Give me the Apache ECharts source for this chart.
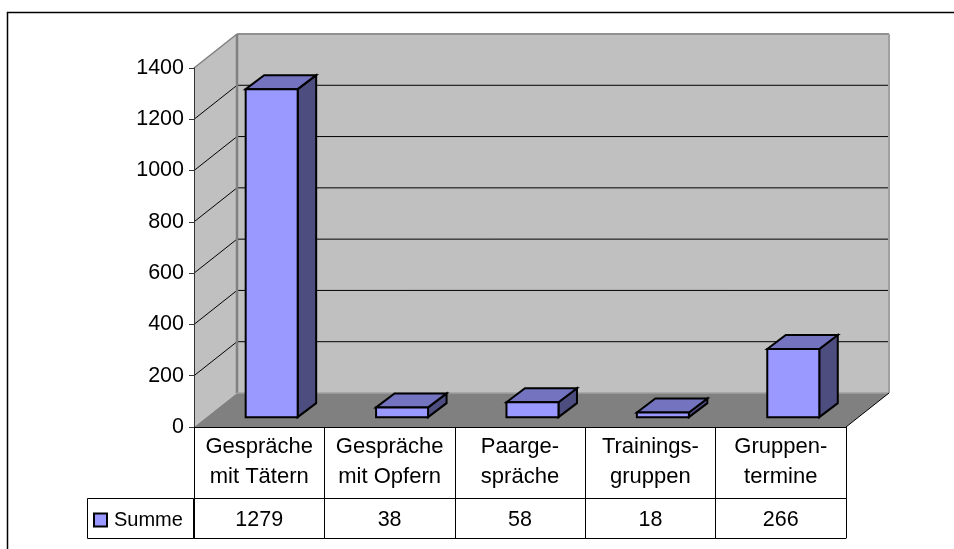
<!DOCTYPE html>
<html>
<head>
<meta charset="utf-8">
<style>
  html, body { margin: 0; padding: 0; background: #fff; }
  #chart { width: 954px; height: 549px; }
</style>
<script src="https://cdn.jsdelivr.net/npm/echarts@6/dist/echarts.min.js"></script>
</head>
<body>
<div id="chart"></div>
<script>
// data
const categories = ['Gespräche\nmit Tätern', 'Gespräche\nmit Opfern', 'Paarge-\nspräche', 'Trainings-\ngruppen', 'Gruppen-\ntermine'];
const summe = [1279, 38, 58, 18, 266];
const yTicks = [0, 200, 400, 600, 800, 1000, 1200, 1400];
const seriesName = 'Summe';

// look of the fake 3d box
const DEPTH_X = 43, DEPTH_Y = 34;
const BAR_W = 52, BAR_DX = 18.5, BAR_DY = 14, BAR_OFFSET = 0.29;
const FONT = '"Liberation Sans", Arial, sans-serif';
const FONT_SIZE = 21.5;

const chart = echarts.init(document.getElementById('chart'));

function poly(points, fill, stroke, width) {
  return { type: 'polygon', shape: { points: points }, style: { fill: fill, stroke: stroke || 'none', lineWidth: width || 0, lineJoin: 'miter' } };
}
function line(a, b, color, width) {
  return { type: 'line', shape: { x1: a[0], y1: a[1], x2: b[0], y2: b[1] }, style: { stroke: color, lineWidth: width } };
}
function back(p) {
  return [p[0] + DEPTH_X, p[1] - DEPTH_Y];
}
// plot edges, category axis only takes whole indexes so go half a band out from the centres
function leftAt(api, v) {
  const p = api.coord([0, v]);
  return [p[0] - api.size([1, 0])[0] / 2, p[1]];
}
function rightAt(api, v) {
  const p = api.coord([categories.length - 1, v]);
  return [p[0] + api.size([1, 0])[0] / 2, p[1]];
}

// left wall, back wall, floor and the gridlines on them
function renderWalls(params, api) {
  const max = yTicks[yTicks.length - 1];
  const bl = leftAt(api, 0);
  const br = rightAt(api, 0);
  const tl = leftAt(api, max);
  const tr = rightAt(api, max);
  const children = [
    poly([bl, tl, back(tl), back(bl)], '#c0c0c0'),
    poly([back(bl), back(tl), back(tr), back(br)], '#c0c0c0'),
    poly([bl, br, back(br), back(bl)], '#808080')
  ];
  yTicks.slice(1, -1).forEach(function (t) {
    const a = leftAt(api, t);
    const b = rightAt(api, t);
    children.push(line(a, back(a), '#000', 1), line(back(a), back(b), '#000', 1));
  });
  children.push(
    line(tl, back(tl), '#808080', 1.5),
    line(back(tl), back(tr), '#909090', 2),
    line(back(tl), back(bl), '#808080', 2.5),
    line(back(tr), back(br), '#a0a0a0', 2),
    line(back(bl), back(br), '#a0a0a0', 1.5),
    line(br, back(br), '#000', 1)
  );
  return { type: 'group', children: children };
}

function renderBar(params, api) {
  const idx = api.value(0);
  const top = api.coord([idx, api.value(1)]);
  const base = api.coord([idx, 0]);
  const x0 = top[0] + BAR_OFFSET * DEPTH_X - BAR_W / 2;
  const x1 = x0 + BAR_W;
  const y0 = top[1] - BAR_OFFSET * DEPTH_Y;
  const y1 = base[1] - BAR_OFFSET * DEPTH_Y;
  const s = 2;
  return {
    type: 'group',
    children: [
      poly([[x1, y0], [x1 + BAR_DX, y0 - BAR_DY], [x1 + BAR_DX, y1 - BAR_DY], [x1, y1]], '#4d4d80', '#000', s),
      poly([[x0, y0], [x0 + BAR_DX, y0 - BAR_DY], [x1 + BAR_DX, y0 - BAR_DY], [x1, y0]], '#7373bf', '#000', s),
      poly([[x0, y0], [x1, y0], [x1, y1], [x0, y1]], '#9999ff', '#000', s)
    ]
  };
}

chart.setOption({
  animation: false,
  backgroundColor: '#fff',
  textStyle: { fontFamily: FONT },
  grid: { left: 194, right: 108, top: 68, bottom: 122 },
  legend: {
    left: 93,
    top: 510,
    data: [{ name: seriesName, icon: 'rect' }],
    itemWidth: 13,
    itemHeight: 13,
    itemGap: 0,
    padding: 0,
    selectedMode: false,
    itemStyle: { borderColor: '#000', borderWidth: 2 },
    textStyle: { fontFamily: FONT, fontSize: 20, color: '#000', padding: [0, 0, 0, 2] }
  },
  xAxis: [
    {
      type: 'category',
      data: categories,
      position: 'bottom',
      z: 5,
      axisLine: { lineStyle: { color: '#000', width: 1 } },
      axisTick: { show: true, length: 111, lineStyle: { color: '#000', width: 1 } },
      axisLabel: { fontFamily: FONT, fontSize: 22, color: '#000', lineHeight: 30, margin: 5, interval: 0 }
    },
    {
      type: 'category',
      data: summe.map(String),
      position: 'bottom',
      offset: 71,
      z: 5,
      axisLine: { lineStyle: { color: '#000', width: 1 } },
      axisTick: { show: false },
      axisLabel: { fontFamily: FONT, fontSize: FONT_SIZE, color: '#000', margin: 11, interval: 0 }
    },
    {
      type: 'category',
      data: categories,
      position: 'bottom',
      offset: 111,
      z: 5,
      axisLine: { lineStyle: { color: '#000', width: 1 } },
      axisTick: { show: false },
      axisLabel: { show: false }
    }
  ],
  yAxis: {
    type: 'value',
    min: yTicks[0],
    max: yTicks[yTicks.length - 1],
    interval: yTicks[1] - yTicks[0],
    z: 5,
    axisLine: { show: true, lineStyle: { color: '#333', width: 1 } },
    axisTick: { show: true, length: 5, lineStyle: { color: '#333', width: 1 } },
    axisLabel: { fontFamily: FONT, fontSize: FONT_SIZE, color: '#000', margin: 10, formatter: String },
    splitLine: { show: false }
  },
  series: [
    { type: 'custom', z: 1, silent: true, renderItem: renderWalls, data: [[0, 0]], xAxisIndex: 0 },
    {
      type: 'custom',
      name: seriesName,
      z: 3,
      renderItem: renderBar,
      itemStyle: { color: '#9999ff' },
      data: summe.map(function (v, i) { return [i, v]; }),
      encode: { x: 0, y: 1 },
      xAxisIndex: 0
    }
  ],
  graphic: [
    // chart frame, runs off the right and bottom of the shot
    { type: 'rect', shape: { x: 7.5, y: 12.5, width: 1000, height: 600 }, style: { fill: 'none', stroke: '#000', lineWidth: 1.5 }, z: 10 },
    // legend cell of the data table
    { type: 'rect', shape: { x: 87.5, y: 498.5, width: 106, height: 40 }, style: { fill: 'none', stroke: '#000', lineWidth: 1 }, z: 10 }
  ]
});
</script>
</body>
</html>
